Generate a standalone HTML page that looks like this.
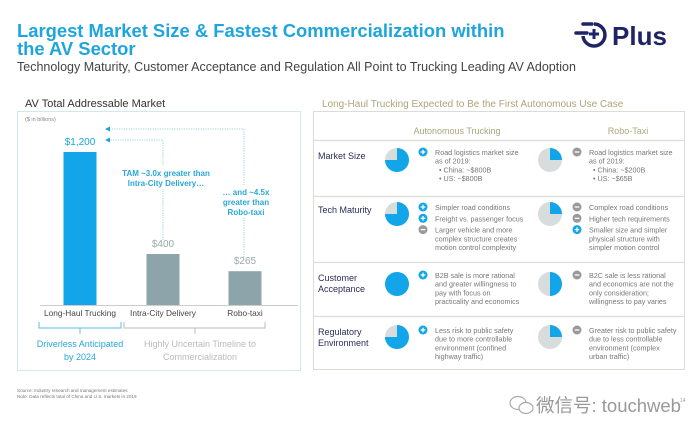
<!DOCTYPE html>
<html><head><meta charset="utf-8">
<style>
html,body{margin:0;padding:0;background:#fff;}
body{width:700px;height:433px;overflow:hidden;font-family:"Liberation Sans","Noto Sans CJK SC",sans-serif;}
</style></head>
<body>
<svg id="s" width="700" height="433" viewBox="0 0 700 433" xmlns="http://www.w3.org/2000/svg" font-family="Liberation Sans, Noto Sans CJK SC, sans-serif">
<g>
<text x="17" y="37" font-size="18.4" font-weight="bold" fill="#1ea5dd">Largest Market Size &amp; Fastest Commercialization within</text>
<text x="17" y="55" font-size="18.4" font-weight="bold" fill="#1ea5dd">the AV Sector</text>
<text x="17" y="71" font-size="12.5" fill="#444">Technology Maturity, Customer Acceptance and Regulation All Point to Trucking Leading AV Adoption</text>
</g>
<g fill="#1f2466" stroke="#1f2466">
<line x1="576" y1="33" x2="587" y2="33" stroke-width="3.5" stroke-linecap="round"/>
<line x1="583" y1="24" x2="592" y2="24" stroke-width="3.5" stroke-linecap="round"/>
<path d="M594 24 A11 11 0 1 1 583 36" fill="none" stroke-width="3.5"/>
<line x1="594" y1="29" x2="594" y2="39" stroke-width="3"/>
<line x1="589" y1="34" x2="599" y2="34" stroke-width="3"/>
<text x="612" y="45" font-size="26" font-weight="bold" stroke="none">Plus</text>
</g>

<g id="left">
<text x="25" y="107" font-size="11" fill="#333">AV Total Addressable Market</text>
<rect x="17.5" y="111.5" width="283" height="259" fill="none" stroke="#d4e6ef"/>
<text x="25" y="121" font-size="5.5" fill="#888">($ in billions)</text>
<g id="bars"></g>
</g>

<g id="right">
<text x="322" y="107" font-size="10" fill="#a9a77a">Long-Haul Trucking Expected to Be the First Autonomous Use Case</text>
<rect x="313.5" y="111.5" width="371" height="258" fill="none" stroke="#dcdcd6"/>
<text x="457" y="134" font-size="9" fill="#a9a77a" text-anchor="middle">Autonomous Trucking</text>
<text x="628" y="134" font-size="9" fill="#a9a77a" text-anchor="middle">Robo-Taxi</text>
<g id="rows"></g>
</g>

<g font-size="4.6" fill="#777">
<text x="17" y="392">Source: Industry research and management estimates</text>
<text x="17" y="398">Note: Data reflects total of China and U.S. markets in 2019</text>
</g>
<g fill="#999">
<ellipse cx="518" cy="403" rx="8" ry="6.5" fill="none" stroke="#aaa" stroke-width="1.2"/>
<ellipse cx="526" cy="408" rx="7" ry="5.5" fill="#fff" stroke="#aaa" stroke-width="1.2"/>
<text x="536" y="412" font-size="18.5" fill="#999">微信号: touchweb</text>
<text x="680" y="402" font-size="5" fill="#999">14</text>
</g>
</svg>
<script>
const categories = ["Long-Haul Trucking","Intra-City Delivery","Robo-taxi"];
const values = [1200, 400, 265];
const valueLabels = ["$1,200","$400","$265"];
const rowLabels = [["Market Size"],["Tech Maturity"],["Customer","Acceptance"],["Regulatory","Environment"]];
const truckPie = [0.75, 0.75, 1.0, 0.75];
const taxiPie = [0.25, 0.25, 0.5, 0.25];
const truckText = [
 [["+","Road logistics market size","as of 2019:","• China: ~$800B","• US: ~$800B"]],
 [["+","Simpler road conditions"],["+","Freight vs. passenger focus"],["-","Larger vehicle and more","complex structure creates","motion control complexity"]],
 [["+","B2B sale is more rational","and greater willingness to","pay with focus on","practicality and economics"]],
 [["+","Less risk to public safety","due to more controllable","environment (confined","highway traffic)"]]
];
const taxiText = [
 [["-","Road logistics market size","as of 2019:","• China: ~$200B","• US: ~$65B"]],
 [["-","Complex road conditions"],["-","Higher tech requirements"],["+","Smaller size and simpler","physical structure with","simpler motion control"]],
 [["-","B2C sale is less rational","and economics are not the","only consideration;","willingness to pay varies"]],
 [["-","Greater risk to public safety","due to less controllable","environment (complex","urban traffic)"]]
];
const NS="http://www.w3.org/2000/svg";
function mk(tag,attrs,parent,txt){const e=document.createElementNS(NS,tag);for(const k in attrs)e.setAttribute(k,attrs[k]);if(txt!==undefined)e.textContent=txt;parent.appendChild(e);return e;}
const base=305, pxPer=153/1200, xc=[80,163,245], bw=33;
const y=v=>base-v*pxPer;
const bars=document.getElementById('bars');
values.forEach((v,i)=>{
 const r=mk('rect',{x:xc[i]-bw/2,y:y(v),width:bw,height:base-y(v),fill:i===0?'#12a5e9':'#8ea4ab'},bars);
 
 
 const t=mk('text',{x:xc[i],y:y(v)-7,'font-size':10,'text-anchor':'middle',fill:i===0?'#1aa3dc':'#9aa'},bars,valueLabels[i]);
 
 
 const c=mk('text',{x:xc[i],y:base+11,'font-size':8.3,'text-anchor':'middle',fill:'#444'},bars,categories[i]);
 
 
});
const ax=mk('line',{x1:40,y1:base+0.5,x2:298,y2:base+0.5,stroke:'#ccc'},bars);


mk('path',{d:'M39 322 V328 H121 V322 M80 328 V334',fill:'none',stroke:'#5bbfe0','stroke-width':1},bars);
mk('path',{d:'M124 322 V328 H265 V322 M195 328 V334',fill:'none',stroke:'#bbb','stroke-width':1},bars);
[["Driverless Anticipated",80,347,'#2aa7d8'],["by 2024",80,360,'#2aa7d8'],["Highly Uncertain Timeline to",200,347,'#bbb'],["Commercialization",200,360,'#bbb']].forEach(a=>{
 const t=mk('text',{x:a[1],y:a[2],'font-size':9,'text-anchor':'middle',fill:a[3]},bars,a[0]);
 
 
});
const xt1=y(values[1])-14, xt2=y(values[2])-14;
mk('path',{d:`M163 ${xt1} V140 H110`,fill:'none',stroke:'#7cc','stroke-width':0.8,'stroke-dasharray':'1.2,1.2'},bars);
mk('path',{d:`M244 ${xt2} V129 H110`,fill:'none',stroke:'#7cc','stroke-width':0.8,'stroke-dasharray':'1.2,1.2'},bars);
mk('path',{d:'M105 140 l5 -2.5 v5z M105 129 l5 -2.5 v5z',fill:'#1aa3dc'},bars);
mk('rect',{x:118,y:165,width:92,height:24,fill:'#fff'},bars);
mk('rect',{x:222,y:185,width:50,height:32,fill:'#fff'},bars);
[["TAM ~3.0x greater than",166,176],["Intra-City Delivery…",166,186],["… and ~4.5x",246,195],["greater than",246,205],["Robo-taxi",246,215]].forEach(a=>{
 const t=mk('text',{x:a[1],y:a[2],'font-size':8,'font-weight':'bold','text-anchor':'middle',fill:'#2aa7d8'},bars,a[0]);
 
 
});
const rows=document.getElementById('rows');
const rowTop=[140,196,262,316];
function pie(cx,cy,frac,g){
 const r=12;
 mk('circle',{cx,cy,r,fill:'#d7dcdd'},g);
 if(frac>=1){mk('circle',{cx,cy,r,fill:'#12a5e9'},g);return;}
 const a=frac*2*Math.PI, x2=cx+r*Math.sin(a), y2=cy-r*Math.cos(a);
 mk('path',{d:`M${cx} ${cy} L${cx} ${cy-r} A${r} ${r} 0 ${frac>0.5?1:0} 1 ${x2} ${y2} Z`,fill:'#12a5e9'},g);
}
function bullets(x,y0,items,g){
 let yy=y0;
 items.forEach(it=>{
  const plus=it[0]==='+';
  mk('circle',{cx:x,cy:yy-3,r:4.5,fill:plus?'#12a5e9':'#999'},g);
  mk('line',{x1:x-2.3,y1:yy-3,x2:x+2.3,y2:yy-3,stroke:'#fff','stroke-width':1.3},g);
  if(plus)mk('line',{x1:x,y1:yy-5.3,x2:x,y2:yy-0.7,stroke:'#fff','stroke-width':1.3},g);
  for(let k=1;k<it.length;k++){
   mk('text',{x:x+12+(it[k].startsWith('•')?4:0),y:yy,'font-size':7.2,fill:'#777'},g,it[k]);
   yy+=8.7;
  }
  yy+=2.6;
 });
}
rowLabels.forEach((lab,i)=>{
 const g=mk('g',{},rows);
 
 
 mk('line',{x1:314,y1:rowTop[i]+0.5,x2:684,y2:rowTop[i]+0.5,stroke:'#ddddd6','stroke-width':1.2},g);
 const ly=[159,213,281,335][i];
 lab.forEach((s,k)=>mk('text',{x:318,y:ly+k*11,'font-size':9,fill:'#2a2d5a'},g,s));
 const pc=[160,214,284,337][i];
 pie(397,pc,truckPie[i],g);
 pie(550,pc,taxiPie[i],g);
 const ty=[155,210,278,333][i];
 bullets(423,ty,truckText[i],g);
 bullets(577,ty,taxiText[i],g);
});
</script>
</body></html>
